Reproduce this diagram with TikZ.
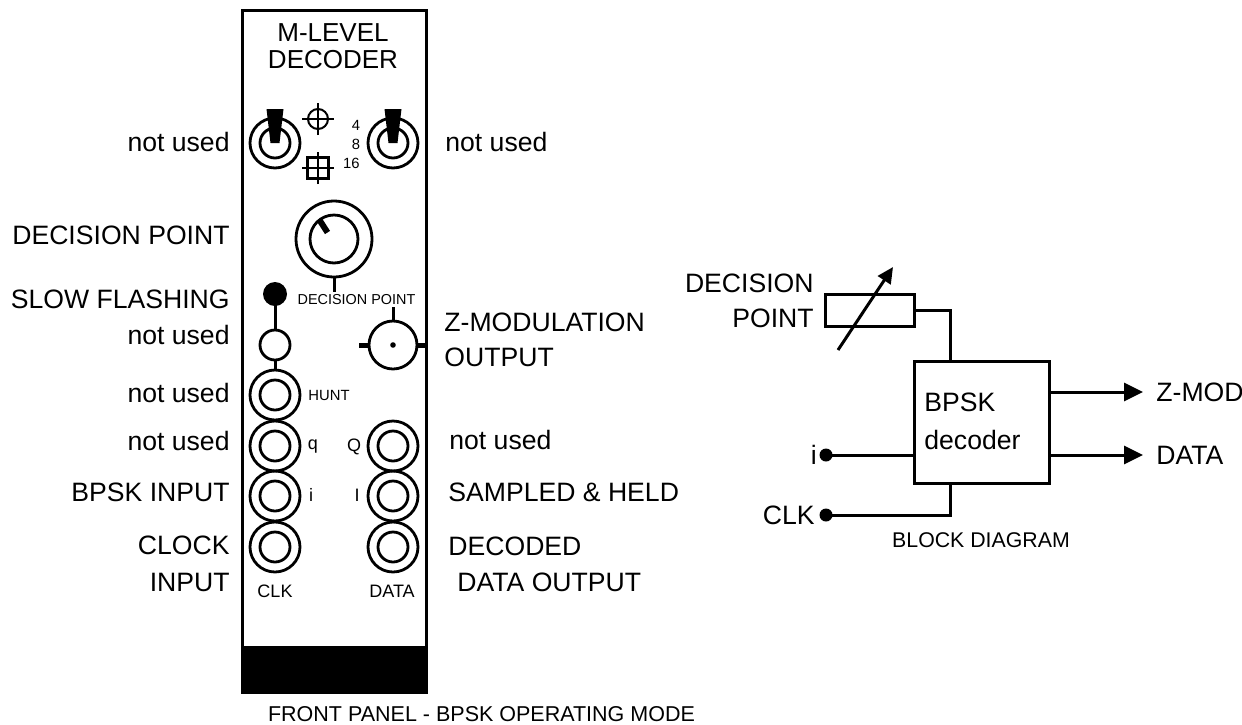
\documentclass[tikz,border=0pt]{standalone}
\usepackage{xcolor}
\usepackage{fontspec}
\setmainfont{Liberation Sans}
\usetikzlibrary{arrows.meta,positioning}

\begin{document}
\begin{tikzpicture}[x=0.5pt,y=-0.5pt,>={Triangle[length=9.5pt,width=9pt]},line width=1.4pt]
\tikzset{
  lab/.style={font=\fontsize{13.3}{16}\selectfont,inner sep=0pt,text=black},
  tiny/.style={font=\fontsize{7.4}{9}\selectfont,inner sep=0pt},
  patchlab/.style={font=\fontsize{9}{11}\selectfont,inner sep=0pt},
  jack/.style={circle,draw,minimum size=25pt,inner sep=0pt},
  jackin/.style={circle,draw,minimum size=15pt,inner sep=0pt},
  dot/.style={circle,fill,minimum size=6.5pt,inner sep=0pt},
  box/.style={draw,line width=1.5pt,inner sep=0pt,outer sep=0pt,anchor=north west},
  wire/.style={line width=1.5pt}
}
\useasboundingbox (0,0) rectangle (1242,724);
% front panel
\node[box,minimum width=92pt,minimum height=341pt] (panel) at (242,10) {};
\node[box,fill=black,minimum width=92pt,minimum height=22.5pt] (band) at (242,647) {};
\node[font=\fontsize{13}{15}\selectfont,inner sep=0pt] (title1) at (333,33) {M-LEVEL};
\node[font=\fontsize{13}{15}\selectfont,inner sep=0pt] (title2) at (333,60) {DECODER};
% toggles
\foreach \name/\xx in {togl/275,togr/393}{
  \node[jack] (\name) at (\xx,143) {};
  \node[jackin] (\name in) at (\xx,143) {};
  \fill (\xx-8.5,109) -- (\xx+8.5,109) -- (\xx+4.5,143) -- (\xx-4.5,143) -- cycle;
}
\node[circle,draw,line width=1pt,minimum size=10pt,inner sep=0pt] (tgt) at (318,119) {};
\draw[line width=0.6pt] ([xshift=-8pt]tgt.center)--([xshift=8pt]tgt.center);
\draw[line width=0.6pt] ([yshift=-8pt]tgt.center)--([yshift=8pt]tgt.center);
\node[draw,minimum size=10.6pt,inner sep=0pt] (sqr) at (318,168) {};
\draw[line width=0.6pt] ([xshift=-8pt]sqr.center)--([xshift=8pt]sqr.center);
\draw[line width=0.6pt] ([yshift=-8pt]sqr.center)--([yshift=8pt]sqr.center);
\node[tiny] (m4) at (356,125) {4};
\node[tiny] (m8) at (356,144) {8};
\node[tiny,anchor=east] (m16) at (361,163) {16};
% knob and lamps
\node[circle,draw,minimum size=38pt,inner sep=0pt] (knob) at (334,239) {};
\node[circle,draw,minimum size=24pt,inner sep=0pt] (knobin) at (334,239) {};
\draw[line width=3pt] (319.5,220)--(327.5,232.5);
\node[tiny,font=\fontsize{7.2}{9}\selectfont] (declab) at (356.5,300) {DECISION POINT};
\coordinate (knobend) at (334,292);
\draw[wire] (knob.south)--(knobend);
\node[circle,fill,minimum size=12pt,inner sep=0pt] (led) at (275,294) {};
\node[circle,draw,minimum size=15pt,inner sep=0pt] (lamp) at (275,345) {};
\node[jack] (hunt) at (275,395) {};
\node[jackin] (huntin) at (275,395) {};
\draw[wire] (led.center)--(lamp); \draw[wire] (lamp)--(hunt);
\node[tiny] (huntlab) at (329,395) {HUNT};
% z-modulation socket
\node[circle,draw,minimum size=24pt,inner sep=0pt] (bnc) at (393,345) {};
\node[circle,fill,minimum size=2.8pt,inner sep=0pt] (bncdot) at (393,345) {};
\coordinate (bnctop) at (393,307);
\coordinate (bncl) at (359,345);
\coordinate (bncr) at (426,345);
\draw[wire] (bnc.north)--(bnctop);
\draw[line width=2.5pt] (bnc.west)--(bncl);
\draw[line width=2.5pt] (bnc.east)--(bncr);
% patch sockets
\foreach \name/\xx/\yy in {jq/275/446,ji/275/496,jclk/275/547,jbq/393/446,jbi/393/496,jdata/393/547}{
  \node[jack] (\name) at (\xx,\yy) {};
  \node[jackin] (\name in) at (\xx,\yy) {};
}
\node[patchlab] (lq) at (313,447) {q};
\node[patchlab] (lbq) at (354,447) {Q};
\node[patchlab] (li) at (311,495) {i};
\node[patchlab] (lbi) at (357,495) {I};
\node[patchlab] (lclk) at (275,591) {CLK};
\node[patchlab] (ldata) at (392,591) {DATA};
% labels round the panel
\foreach \txt/\yy in {not used/142,DECISION POINT/235,SLOW FLASHING/299,not used/335,not used/393,not used/441,BPSK INPUT/492,CLOCK/545,INPUT/582}
  \node[lab,anchor=east] at (231,\yy) {\txt};
\foreach \txt/\xx/\yy in {not used/444/142,Z-MODULATION/443/322,OUTPUT/443/357,not used/448/440,SAMPLED \& HELD/447/492,DECODED/447/546,DATA OUTPUT/456/582}
  \node[lab,anchor=west] at (\xx,\yy) {\txt};
\node[font=\fontsize{10.75}{12}\selectfont,inner sep=0pt] (cap1) at (481.5,714) {FRONT PANEL - BPSK OPERATING MODE};
% block diagram
\node[box,minimum width=67.5pt,minimum height=61pt] (dec) at (914,361) {};
\node[box,minimum width=44.5pt,minimum height=16pt] (res) at (825,294) {};
\coordinate (dect) at (950,361);
\coordinate (decb) at (950,483);
\draw[wire] (res.east) -| (dect);
\coordinate (varst) at (838,350);
\coordinate (varen) at (893,267);
\draw[wire,->,>={Triangle[length=8pt,width=7.5pt]}] (varst)--(varen);
\node[lab,anchor=east] (dlab1) at (815,283) {DECISION};
\node[lab,anchor=east] (dlab2) at (815,318) {POINT};
\node[lab,anchor=west] (blk1) at (923,402) {BPSK};
\node[lab,anchor=west] (blk2) at (923,440) {decoder};
\node[dot] (idot) at (826,455) {};
\node[dot] (clkdot) at (826,515) {};
\node[lab,left=0pt of idot] (ilab) {i};
\node[lab,left=1pt of clkdot] (clklab) {CLK};
\draw[wire] (idot.center)--(idot -| dec.west);
\draw[wire] (clkdot.center) -| (decb);
\node[lab,anchor=west] (zlab) at (1155,392) {Z-MOD};
\node[lab,anchor=west] (dlab) at (1155,455) {DATA};
\draw[wire,->] (zlab.west -| dec.east)--([xshift=-6pt]zlab.west);
\draw[wire,->] (dlab.west -| dec.east)--([xshift=-6pt]dlab.west);
\node[font=\fontsize{10.65}{12}\selectfont,inner sep=0pt] (cap2) at (981,540) {BLOCK DIAGRAM};
\end{tikzpicture}
\end{document}
